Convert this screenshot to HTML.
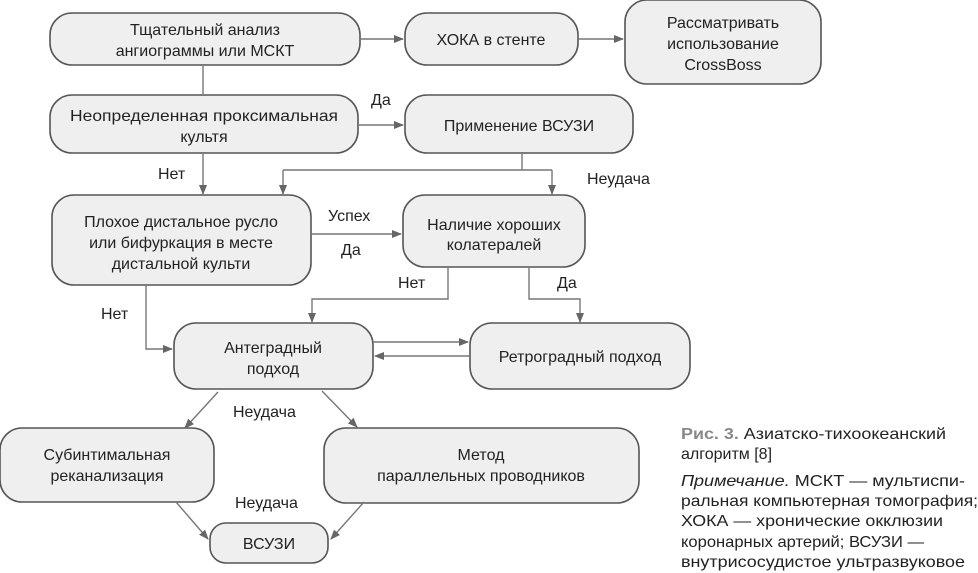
<!DOCTYPE html>
<html><head><meta charset="utf-8"><style>
html,body{margin:0;padding:0;background:#fff;}
svg{display:block;}
text{font-family:"Liberation Sans",sans-serif;fill:#222;}
.b{fill:#efefef;stroke:#555;stroke-width:1.6;}
.l{stroke:#777;stroke-width:1.4;fill:none;}
.t{font-size:16px;text-anchor:middle;}
.c{font-size:16px;}
</style></head><body>
<svg width="978" height="573" viewBox="0 0 978 573" xmlns="http://www.w3.org/2000/svg">
<defs><marker id="a" markerWidth="10" markerHeight="10" refX="9" refY="5" orient="auto" markerUnits="userSpaceOnUse"><path d="M0,1 L10,5 L0,9 Z" fill="#666"/></marker></defs>
<!-- boxes -->
<rect class="b" x="50" y="13" width="310" height="52" rx="22"/>
<rect class="b" x="405" y="13" width="173" height="52" rx="22"/>
<rect class="b" x="625" y="0" width="196" height="84" rx="22"/>
<rect class="b" x="50" y="95" width="308" height="58" rx="22"/>
<rect class="b" x="405" y="95" width="228" height="58" rx="22"/>
<rect class="b" x="52" y="195" width="259" height="90" rx="22"/>
<rect class="b" x="403" y="195" width="182" height="72" rx="22"/>
<rect class="b" x="174" y="323" width="199" height="66" rx="22"/>
<rect class="b" x="470" y="323" width="220" height="66" rx="22"/>
<rect class="b" x="0" y="428" width="214" height="74" rx="22"/>
<rect class="b" x="324" y="428" width="315" height="75" rx="22"/>
<rect class="b" x="210" y="523" width="118" height="40" rx="16"/>
<!-- connectors -->
<path class="l" d="M360,39 L403,39" marker-end="url(#a)"/>
<path class="l" d="M578,39 L623,39" marker-end="url(#a)"/>
<path class="l" d="M203,65 L203,95"/>
<path class="l" d="M358,125 L403,125" marker-end="url(#a)"/>
<path class="l" d="M203,153 L203,194" marker-end="url(#a)"/>
<path class="l" d="M522,153 L522,170"/>
<path class="l" d="M283,170 L552,170"/>
<path class="l" d="M283,170 L283,194" marker-end="url(#a)"/>
<path class="l" d="M552,170 L552,194" marker-end="url(#a)"/>
<path class="l" d="M311,234 L401,234" marker-end="url(#a)"/>
<path class="l" d="M448,267 L448,299 L312,299 L312,322" marker-end="url(#a)"/>
<path class="l" d="M529,267 L529,299 L580,299 L580,322" marker-end="url(#a)"/>
<path class="l" d="M146,285 L146,349 L172,349" marker-end="url(#a)"/>
<path class="l" d="M373,342 L468,342" marker-end="url(#a)"/>
<path class="l" d="M470,356 L375,356" marker-end="url(#a)"/>
<path class="l" d="M218,392 L185,428" marker-end="url(#a)"/>
<path class="l" d="M322,391 L357,427" marker-end="url(#a)"/>
<path class="l" d="M176,502 L208,539" marker-end="url(#a)"/>
<path class="l" d="M364,502 L331,539" marker-end="url(#a)"/>
<!-- box text -->
<text class="t" x="205" y="35">Тщательный анализ</text>
<text class="t" x="205" y="56">ангиограммы или МСКТ</text>
<text class="t" x="491" y="45">ХОКА в стенте</text>
<text class="t" x="723" y="28">Рассматривать</text>
<text class="t" x="723" y="49">использование</text>
<text class="t" x="723" y="70">CrossBoss</text>
<text class="t" x="204" y="121" textLength="268" lengthAdjust="spacingAndGlyphs">Неопределенная проксимальная</text>
<text class="t" x="204" y="142">культя</text>
<text class="t" x="519" y="131">Применение ВСУЗИ</text>
<text class="t" x="181" y="227">Плохое дистальное русло</text>
<text class="t" x="181" y="248">или бифуркация в месте</text>
<text class="t" x="181" y="269">дистальной культи</text>
<text class="t" x="494" y="230">Наличие хороших</text>
<text class="t" x="494" y="250">колатералей</text>
<text class="t" x="273" y="353">Антеградный</text>
<text class="t" x="273" y="374">подход</text>
<text class="t" x="580" y="362">Ретроградный подход</text>
<text class="t" x="107" y="460">Субинтимальная</text>
<text class="t" x="107" y="481">реканализация</text>
<text class="t" x="481" y="460">Метод</text>
<text class="t" x="481" y="481">параллельных проводников</text>
<text class="t" x="269" y="549">ВСУЗИ</text>
<!-- labels -->
<text class="c" x="371" y="105">Да</text>
<text class="c" x="158" y="179">Нет</text>
<text class="c" x="587" y="184">Неудача</text>
<text class="c" x="328" y="221">Успех</text>
<text class="c" x="341" y="255">Да</text>
<text class="c" x="398" y="288">Нет</text>
<text class="c" x="557" y="288">Да</text>
<text class="c" x="101" y="319">Нет</text>
<text class="c" x="233" y="417">Неудача</text>
<text class="c" x="235" y="508">Неудача</text>
<!-- caption -->
<text class="c" x="681" y="439" textLength="265" lengthAdjust="spacingAndGlyphs"><tspan font-weight="bold" style="fill:#888">Рис. 3.</tspan> Азиатско-тихоокеанский</text>
<text class="c" x="681" y="459">алгоритм [8]</text>
<text class="c" x="681" y="486" textLength="284" lengthAdjust="spacingAndGlyphs"><tspan font-style="italic">Примечание.</tspan> МСКТ — мультиспи-</text>
<text class="c" x="681" y="506" textLength="297" lengthAdjust="spacingAndGlyphs">ральная компьютерная томография;</text>
<text class="c" x="681" y="526" textLength="262" lengthAdjust="spacingAndGlyphs">ХОКА — хронические окклюзии</text>
<text class="c" x="681" y="547" textLength="243" lengthAdjust="spacingAndGlyphs">коронарных артерий; ВСУЗИ —</text>
<text class="c" x="681" y="567" textLength="284" lengthAdjust="spacingAndGlyphs">внутрисосудистое ультразвуковое</text>
</svg>
</body></html>
